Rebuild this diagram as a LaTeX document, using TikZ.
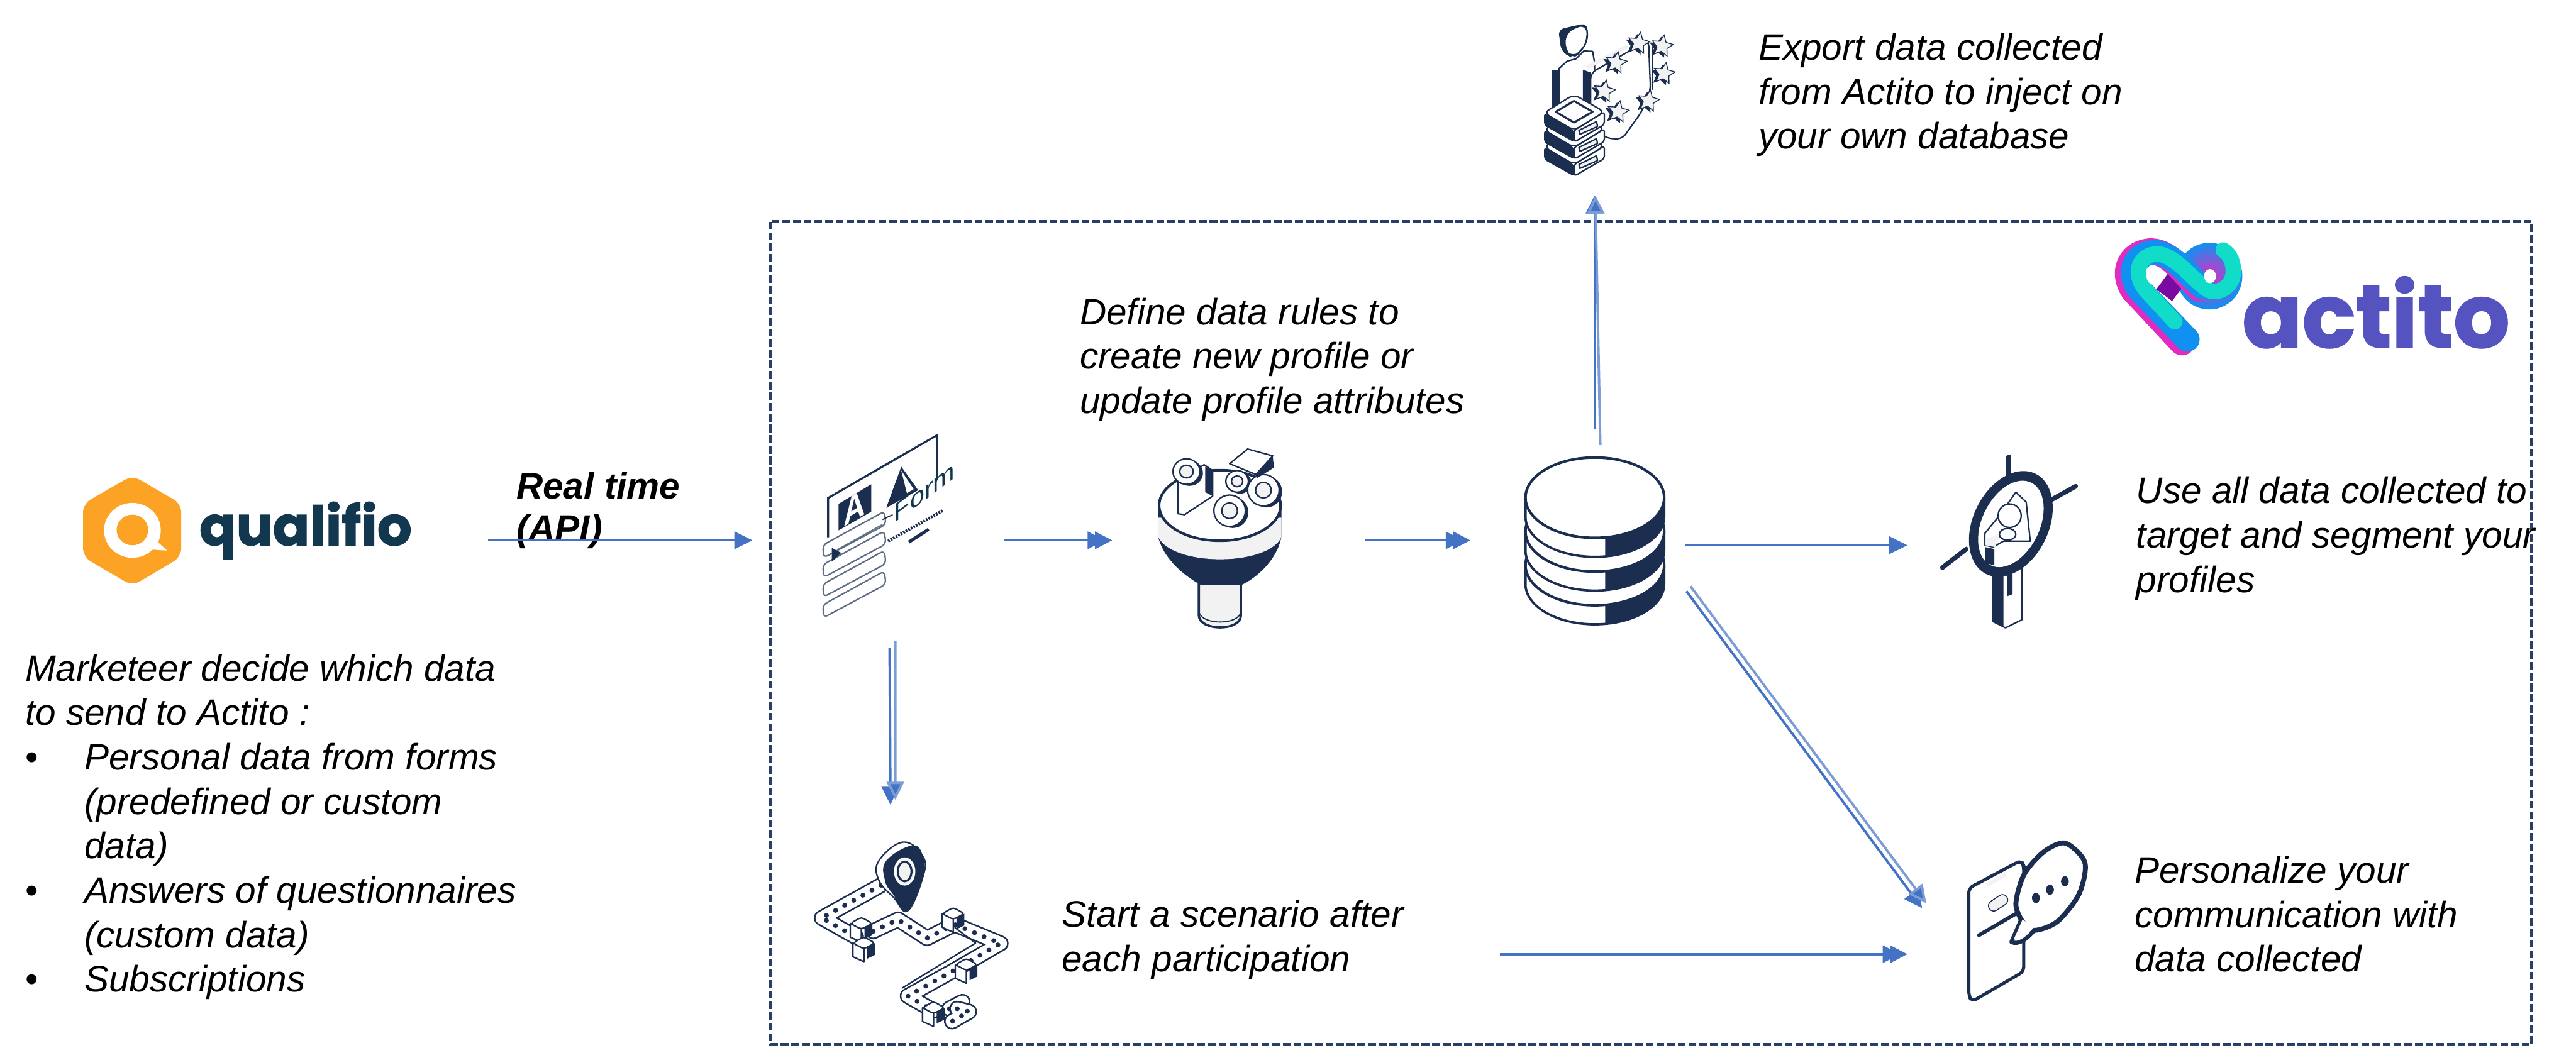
\documentclass[tikz,border=0pt]{standalone}
\usepackage{fontspec}
\setmainfont{Liberation Sans}
\newfontfamily\logofont[BoldFeatures={FakeBold=1.6}]{Poppins}
\usetikzlibrary{arrows.meta,positioning,shapes.geometric}

\begin{document}
\begin{tikzpicture}[x=0.2mm,y=-0.2mm,
    caption/.style={anchor=north west,inner sep=0pt,align=left,font=\fontsize{12.75}{15.4}\selectfont\itshape},
    iconbox/.style={inner sep=0pt,outer sep=0pt},
    flow/.style={draw=flowblue,line width=0.85pt,-{Triangle[length=2.2mm,width=2.1mm,fill=flowblue]}},
    flowtwo/.style={draw=flowblue,line width=0.85pt,-{Triangle[length=2.1mm,width=2.1mm,fill=flowblue,sep=-1.2mm]Triangle[length=2.1mm,width=2.1mm,fill=flowblue]}},
    ink/.style={draw=navy,line width=0.5pt,line join=round},
    starmark/.style={star,star points=5,star point ratio=2.1,minimum size=2.7mm,inner sep=0pt,rotate=-10}]
\definecolor{flowblue}{HTML}{4472C4}
\definecolor{navy}{HTML}{1B2E50}
\definecolor{boxnavy}{HTML}{2A3F66}
\definecolor{softgrey}{HTML}{F2F2F2}
\definecolor{qorange}{HTML}{FCA326}
\definecolor{qteal}{HTML}{12384F}
\definecolor{aviolet}{HTML}{5553C0}
\definecolor{amagenta}{HTML}{E02CC0}
\definecolor{ablue}{HTML}{1090F0}
\definecolor{ateal}{HTML}{10DCC8}
\definecolor{apurple}{HTML}{7A0AA0}
\useasboundingbox (0,0) rectangle (1568,638);

% Actito frame
\draw[boxnavy,line width=1pt,dash pattern=on 2.7pt off 1pt] (469,135) rectangle (1541,636);

% invisible boxes that the connectors attach to
\node[iconbox,minimum width=51.4mm,minimum height=18mm] (qualifio) at (168.5,329) {};
\node[iconbox,minimum width=30.6mm,minimum height=26.2mm] (form) at (534.5,329) {};
\node[iconbox,minimum width=30.8mm,minimum height=26mm] (funnel) at (754,329) {};
\node[iconbox,minimum width=26.2mm,minimum height=28.4mm] (db) at (960.5,332) {};
\node[iconbox,minimum width=26mm,minimum height=23.8mm] (export) at (970.6,59.5) {};
\node[iconbox,minimum width=20mm,minimum height=24mm] (target) at (1211,332) {};
\node[iconbox,minimum width=26mm,minimum height=24mm] (journey) at (542,553) {};
\node[iconbox,minimum width=22mm,minimum height=20mm] (phone) at (1216,560) {};

% qualifio logo
\begin{scope}[shift={(0,250.7)},x=0.06396mm,y=0.02388mm*-1]
\fill[qorange,rounded corners=3pt] (252,325) -- (345,470) -- (345,740) -- (252,888) -- (158,740) -- (158,470) -- cycle;
\fill[white] (252,605) ellipse [x radius=54,y radius=140];
\fill[white] (290,640) -- (318,708) -- (270,700) -- cycle;
\fill[qorange] (252,603) ellipse [x radius=30,y radius=78];
\end{scope}
\node[anchor=base west,inner sep=0pt,text=qteal,font=\logofont\fontsize{18.8}{19}\selectfont\bfseries] (qualifiotext) at (121,332) {qualifio};

% Actito logo
\begin{scope}[shift={(1253.6,125.4)},x=0.0401mm,y=0.02388mm*-1]
\shade[inner color=amagenta,outer color=ablue] (455,358) ellipse [x radius=100,y radius=170];
\draw[apurple,line width=2.4mm] (395,280) -- (318,455);
\draw[amagenta,line width=3.2mm,line cap=round] (372,695) -- (225,430) .. controls (185,330) and (220,232) .. (280,232) .. controls (335,235) and (375,340) .. (425,420);
\draw[ablue,line width=3mm,line cap=round] (388,680) -- (242,425) .. controls (200,330) and (235,238) .. (288,236) .. controls (340,238) and (385,345) .. (435,415);
\draw[ateal,line width=1.9mm,line cap=round] (350,590) -- (262,430) .. controls (215,330) and (250,245) .. (295,245) .. controls (345,245) and (390,350) .. (440,415) .. controls (470,465) and (525,420) .. (528,340) .. controls (528,290) and (520,250) .. (497,225);
\fill[white] (285,360) ellipse [x radius=21,y radius=40];
\fill[white] (457,358) ellipse [x radius=18,y radius=36];
\end{scope}
\node[anchor=base west,inner sep=0pt,text=aviolet,font=\logofont\fontsize{30.6}{30}\selectfont\bfseries] (actitotext) at (1364.5,211.5) {actito};

% export icon
\begin{scope}[shift={(895.4,0)},x=0.02388mm,y=0.02388mm*-1]
\fill[navy,rounded corners=2pt] (445,150) -- (590,118) -- (600,200) -- (560,270) -- (510,295) -- (460,260) -- cycle;
\fill[white,draw=navy,line width=0.5pt,rounded corners=3pt] (480,165) -- (585,118) -- (598,200) -- (560,265) -- (515,295) -- (478,260) -- cycle;
\fill[navy] (415,360) -- (448,360) -- (448,560) -- (415,560) -- cycle;
\draw[ink,fill=white] (448,560) -- (448,350) -- (490,312) -- (535,300) -- (575,260) -- (620,262) -- (630,320) -- (630,560);
\fill[navy] (570,355) -- (610,370) -- (610,540) -- (570,540) -- cycle;
\draw[softgrey,line width=1.3pt] (590,345) -- (800,235);
\draw[ink,fill=white,rounded corners=2pt] (610,372) -- (905,205) -- (915,460) -- (870,570) -- (770,710) -- (690,705) -- (610,640) -- cycle;
\draw[ink] (925,240) -- (925,460);
\foreach \sx/\sy [count=\i] in {855/220,975/235,740/320,985/375,680/465,905/515,750/570} {
  \node[starmark,fill=navy] (expshadow\i) at (\sx-15,\sy+8) {};
  \node[starmark,fill=softgrey,draw=navy,line width=0.3pt] (expstar\i) at (\sx,\sy) {};
}
\foreach \dy in {174,87,0} {
  \begin{scope}[yshift=-\dy*0.02388mm]
  \fill[navy,rounded corners=1pt] (372,575) -- (525,665) -- (525,725) -- (372,640) -- cycle;
  \draw[ink,fill=white,rounded corners=1pt] (525,665) -- (680,570) -- (680,635) -- (525,725) -- cycle;
  \draw[ink,fill=white,rounded corners=2pt] (372,575) -- (525,482) -- (680,570) -- (525,665) -- cycle;
  \draw[ink,fill=softgrey] (550,665) -- (640,620) -- (645,645) -- (555,685) -- cycle;
  \end{scope}
}
\draw[ink,fill=white,line width=0.7pt] (432,570) -- (525,515) -- (620,570) -- (525,625) -- cycle;
\end{scope}

% form icon
\begin{scope}[shift={(483.5,250.7)},x=0.04568mm,y=0.02388mm*-1]
\draw[navy,line width=0.7pt] (90,640) -- (90,440) -- (380,120) -- (380,350);
\fill[navy] (118,470) -- (205,370) -- (205,510) -- (118,605) -- cycle;
\fill[navy] (285,280) -- (330,400) -- (245,490) -- cycle;
\fill[white] (285,300) -- (318,395) -- (300,415) -- cycle;
\foreach \fy [count=\i] in {0,100,200,305} {
  \draw[navy!70,line width=0.5pt,rounded corners=1.5pt,fill=white] (76,680+\fy) -- (240,508+\fy) -- (244,575+\fy) -- (78,745+\fy) -- cycle;
}
\draw[navy!70,line width=0.4pt] (118,700) -- (235,575);
\fill[navy] (100,695) -- (125,720) -- (100,765) -- cycle;
\draw[navy,line width=1pt,dash pattern=on 0.6pt off 0.4pt] (250,660) -- (395,505);
\draw[navy,line width=1.1pt] (305,665) -- (358,600);
\draw[navy,line width=0.4pt] (235,550) -- (262,525);
\end{scope}
\node[anchor=center,inner sep=0pt,text=white,yslant=0.6,xscale=0.8,font=\bfseries\fontsize{13}{13}\selectfont] (formletter) at (520,309) {A};
\node[anchor=base west,inner sep=0pt,text=qteal,yslant=0.75,font=\fontsize{9}{9}\selectfont] (formtitle) at (544,319) {Form};

% funnel icon
\begin{scope}[shift={(483.5,250.7)},x=0.04568mm,y=0.02388mm*-1]
\draw[navy,line width=0.8pt,fill=softgrey] (1078,870) -- (1078,1040) .. controls (1080,1120) and (1190,1120) .. (1190,1040) -- (1190,870) -- cycle;
\draw[navy,line width=0.4pt] (1078,1020) .. controls (1085,1090) and (1185,1090) .. (1190,1020);
\fill[navy] (970,480) -- (970,640) .. controls (985,760) and (1050,850) .. (1085,885) -- (1190,885) .. controls (1230,850) and (1285,760) .. (1298,640) -- (1298,480) -- cycle;
\fill[softgrey] (970,540) -- (970,640) .. controls (1010,790) and (1260,790) .. (1298,640) -- (1298,540) -- cycle;
\draw[navy,line width=0.9pt,fill=white] (1134,478) ellipse [x radius=162,y radius=180];
\draw[ink,fill=white] (1022,520) -- (1022,360) -- (1092,270) -- (1115,300) -- (1115,430) -- (1040,525) -- cycle;
\fill[navy] (1095,280) -- (1115,300) -- (1115,430) -- (1095,410) -- cycle;
\foreach \kx/\ky/\kr/\ks [count=\i] in {1045/305/36/65,1180/355/30/55,1250/400/42/80,1160/505/42/80} {
  \fill[navy] (\kx+8,\ky+8) ellipse [x radius=\kr,y radius=\ks];
  \draw[ink,fill=white] (\kx,\ky) ellipse [x radius=\kr,y radius=\ks];
  \draw[ink,fill=softgrey] (\kx,\ky) ellipse [x radius=\kr*0.5,y radius=\ks*0.5];
}
\draw[ink,fill=white] (1160,265) -- (1208,190) -- (1275,225) -- (1230,320) -- cycle;
\fill[navy] (1275,225) -- (1278,285) -- (1232,340) -- (1230,320) -- cycle;
\end{scope}

% database icon
\begin{scope}[shift={(895.4,257.9)},x=0.05025mm,y=0.02388mm*-1]
\foreach \k in {2,1,0} {
  \pgfmathsetmacro{\ka}{378+172*\k}
  \pgfmathsetmacro{\kb}{475+172*\k}
  \fill[white] (132,\ka) rectangle (468,\kb);
  \fill[white] (300,\kb) ellipse [x radius=168,y radius=205];
  \begin{scope}
  \clip (325,0) rectangle (520,1100);
  \fill[navy] (132,\ka) rectangle (468,\kb);
  \fill[navy] (300,\kb) ellipse [x radius=168,y radius=205];
  \end{scope}
  \draw[navy,line width=0.8pt] (132,\ka) -- (132,\kb) arc [start angle=180,end angle=360,x radius=168,y radius=-205] -- (468,\ka);
  \draw[navy,line width=0.9pt,fill=white] (300,\ka) ellipse [x radius=168,y radius=205];
}
\end{scope}

% target icon
\begin{scope}[shift={(895.4,257.9)},x=0.05025mm,y=0.02388mm*-1]
\draw[navy,line width=1.6pt,line cap=round] (1303,170) -- (1303,300);
\draw[navy,line width=1.6pt,line cap=round] (1465,320) -- (1405,390);
\draw[navy,line width=1.6pt,line cap=round] (1200,640) -- (1142,735);
\draw[ink,fill=white] (1265,760) -- (1265,1010) -- (1295,1042) -- (1335,1000) -- (1335,720) -- cycle;
\fill[navy] (1262,780) -- (1290,780) -- (1290,1035) -- (1265,1010) -- cycle;
\fill[navy] (1300,760) -- (1312,760) -- (1312,870) -- (1300,880) -- cycle;
\end{scope}
\fill[navy,rotate around={-26:(1224,319)}] (1224,319) ellipse [x radius=23,y radius=34];
\fill[white,rotate around={-26:(1224,319)}] (1224,319) ellipse [x radius=17.5,y radius=28];
\begin{scope}[shift={(895.4,257.9)},x=0.05025mm,y=0.02388mm*-1]
\draw[ink,fill=white] (1320,350) -- (1345,400) -- (1355,600) -- (1290,600) -- (1265,630) -- (1245,620) -- (1245,560) -- (1280,470) -- cycle;
\fill[softgrey] (1245,590) -- (1285,560) -- (1270,630) -- (1245,620) -- cycle;
\fill[navy] (1245,630) -- (1268,640) -- (1268,720) -- (1245,715) -- cycle;
\draw[ink,fill=white] (1305,470) ellipse [x radius=28,y radius=60];
\draw[ink,fill=white] (1300,565) ellipse [x radius=20,y radius=30];
\end{scope}

% journey icon
\begin{scope}[shift={(483.5,483.5)},x=0.03198mm,y=0.02388mm*-1]
\foreach \trk in {
  {(330,465) -- (105,632) -- (235,730)},
  {(300,700) -- (395,640) -- (505,735) -- (610,665) -- (785,762) -- (600,905) -- (432,1030) -- (530,1105)},
  {(590,1095) -- (640,1060)},
  {(620,1095) -- (665,1110) -- (600,1160)}} {
  \draw[navy,line width=1.95mm,line join=round,line cap=round] \trk;
  \draw[white,line width=1.55mm,line join=round,line cap=round] \trk;
  \draw[navy,line width=1.7pt,line cap=round,dash pattern=on 0pt off 3.6pt] \trk;
}
\draw[ink] (410,990) -- (690,760) -- (610,680);
\foreach \bx/\by [count=\i] in {255/660,265/760,605/610,655/870,530/1090} {
  \draw[ink,fill=white] (\bx-42,\by) -- (\bx-42,\by+70) -- (\bx,\by+95) -- (\bx,\by+25) -- cycle;
  \fill[navy] (\bx+12,\by+20) -- (\bx+42,\by) -- (\bx+42,\by+60) -- (\bx+12,\by+80) -- cycle;
  \draw[ink,fill=white,rounded corners=1pt] (\bx-42,\by) -- (\bx,\by-32) -- (\bx+42,\by) -- (\bx,\by+30) -- cycle;
}
\draw[ink,fill=white] plot[smooth cycle,tension=0.7] coordinates {(415,245) (490,320) (490,420) (432,595) (380,530) (322,440) (322,340)};
\fill[navy] plot[smooth cycle,tension=0.7] coordinates {(450,262) (490,320) (490,420) (432,595) (375,510) (345,440) (350,340)};
\draw[white,line width=0.5pt,fill=softgrey] (420,395) ellipse [x radius=38,y radius=68];
\draw[navy,line width=0.7pt,fill=softgrey] (420,395) ellipse [x radius=26,y radius=50];
\end{scope}

% phone icon
\begin{scope}[shift={(1146.1,483.5)},x=0.02388mm,y=0.02388mm*-1]
\draw[navy,line width=1.1pt,fill=white,rounded corners=1.6pt] (438,480) -- (705,338) -- (718,365) -- (718,905) -- (455,1058) -- (438,1030) -- cycle;
\fill[softgrey] (530,455) -- (630,400) -- (630,420) -- (530,475) -- cycle;
\draw[navy,line width=1.4mm,line cap=round] (565,570) -- (610,540);
\draw[softgrey,line width=1.15mm,line cap=round] (565,570) -- (610,540);
\draw[navy,line width=1.3pt,line cap=round] (490,720) -- (675,612);
\draw[navy,line width=1.4pt,fill=white,line join=round] (705,640) -- (655,755) .. controls (690,770) and (730,745) .. (775,692);
\draw[navy,line width=1.7pt,fill=white] plot[smooth cycle] coordinates {(930,250) (1030,350) (1000,510) (890,650) (775,695) (715,655) (678,560) (720,410) (820,295)};
\fill[white] (712,640) -- (668,740) .. controls (690,750) and (730,725) .. (770,680) -- cycle;
\foreach \dx/\dy in {780/530,852/488,928/445} {
  \fill[navy] (\dx,\dy) ellipse [x radius=20,y radius=26];
}
\end{scope}

% captions
\node[caption] (exporttext) at (1070,20) {Export data collected\\from Actito to inject on\\your own database};
\node[caption] (rulestext) at (657,181) {Define data rules to\\create new profile or\\update profile attributes};
\node[caption] (targettext) at (1300,290) {Use all data collected to\\target and segment your\\profiles};
\node[caption] (personaltext) at (1299,521) {Personalize your\\communication with\\data collected};
\node[caption] (scenariotext) at (646,548) {Start a scenario after\\each participation};
\node[caption] (marketeertext) at (15,398) {Marketeer decide which data\\to send to Actito :\\
  \makebox[7.2mm][l]{\upshape•}Personal data from forms\\
  \hspace*{7.2mm}(predefined or custom\\
  \hspace*{7.2mm}data)\\
  \makebox[7.2mm][l]{\upshape•}Answers of questionnaires\\
  \hspace*{7.2mm}(custom data)\\
  \makebox[7.2mm][l]{\upshape•}Subscriptions};
\node[anchor=north west,inner sep=0pt,align=left,font=\fontsize{12.75}{14.6}\selectfont\bfseries\itshape] (realtime) at (314,287) {Real time\\(API)};

% connectors
\coordinate (dbtop) at (db.north -| export.south);
\coordinate (dbout) at (1026.5,360);
\coordinate (phonein) at (1170,553);
\coordinate (scenarioend) at (913,581);
\draw[flow] (qualifio.east) -- (form.west);
\draw[flowtwo] (form.east) -- (funnel.west);
\draw[flowtwo] (funnel.east) -- (funnel.east -| db.west);
\draw[flow] (db.east) -- (target.west);
\draw[flow] (dbtop) -- (export.south);
\draw[flow,draw=flowblue!70] ([shift={(3.5,10)}]dbtop) -- ([shift={(0.5,0)}]export.south);
\draw[flow] ([xshift=-0.1mm]form.south -| journey.north) -- ([yshift=0.6mm]journey.north);
\draw[flow,draw=flowblue!70] ([shift={(3,-4)}]form.south -| journey.north) -- ([xshift=0.6mm,yshift=1.2mm]journey.north);
\draw[flow] (dbout) -- (phonein);
\draw[flow,draw=flowblue!70] ([shift={(2.5,-3)}]dbout) -- ([shift={(2.5,-3)}]phonein);
\draw[flowtwo] (scenarioend) -- (scenarioend -| phone.west);
\end{tikzpicture}
\end{document}
